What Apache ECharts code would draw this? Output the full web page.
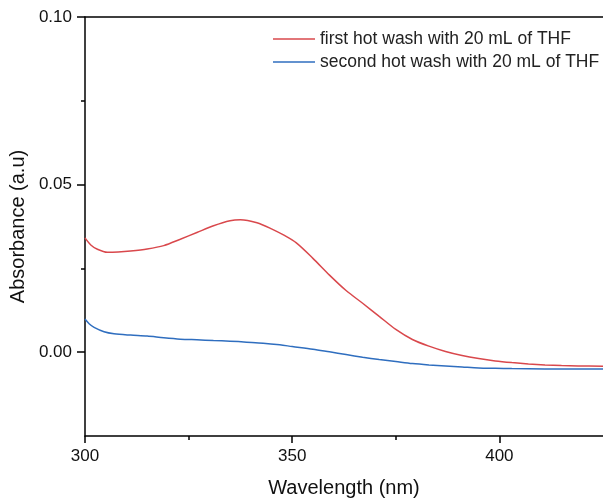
<!DOCTYPE html>
<html>
<head>
<meta charset="utf-8">
<script src="https://cdn.jsdelivr.net/npm/echarts@6/dist/echarts.min.js"></script>
<style>
  html, body { margin: 0; padding: 0; background: #fff; }
  #chart { width: 603px; height: 503px; }
</style>
</head>
<body>
<div id="chart"></div>
<script>
// first wash (red)
const firstWl = [300, 301.4, 303, 305.4, 308, 311, 315, 319, 323, 327, 331, 335, 337.5, 341.5, 345, 348, 351, 355, 359, 363, 367, 371, 375, 379, 383, 387, 391, 395, 399, 403, 407, 411, 415, 419, 425]
const firstAbs = [0.0341, 0.032, 0.0307, 0.0298, 0.0299, 0.0302, 0.0308, 0.0318, 0.0337, 0.0357, 0.0377, 0.0392, 0.0395, 0.0386, 0.0368, 0.0349, 0.0326, 0.028, 0.023, 0.0184, 0.0146, 0.0107, 0.0068, 0.0038, 0.0018, 0.0002, -0.001, -0.0019, -0.0026, -0.0031, -0.0035, -0.0038, -0.004, -0.0041, -0.0042]
// second wash (blue)
const secondWl = [300, 301, 302.2, 304.6, 307, 311, 315, 319, 323, 327, 331, 335, 339, 343, 347, 350, 355, 359, 363, 367, 371, 375, 379, 383, 387, 391, 395, 399, 403, 411, 419, 425]
const secondAbs = [0.0099, 0.0085, 0.0074, 0.0061, 0.0055, 0.0051, 0.0048, 0.0043, 0.0039, 0.0037, 0.0035, 0.0033, 0.003, 0.0027, 0.0022, 0.0017, 0.0009, 0.0001, -0.0007, -0.0015, -0.0022, -0.0028, -0.0034, -0.0038, -0.0041, -0.0044, -0.0047, -0.0048, -0.0049, -0.005, -0.005, -0.005]

const seriesNames = ['first hot wash with 20 mL of THF', 'second hot wash with 20 mL of THF']
const xMajor = [300, 350, 400]
const xMinor = [325, 375]
const yMajor = [0, 0.05, 0.1]
const yMinor = [0.025, 0.075]

const FONT = '"Liberation Sans", Arial, sans-serif'
const axisLine = { show: true, onZero: false, lineStyle: { color: '#000', width: 1.5 } }

const zip = (xs, ys) => xs.map((x, i) => [x, ys[i]])

const chart = echarts.init(document.getElementById('chart'))
chart.setOption({
  animation: false,
  textStyle: { fontFamily: FONT },
  grid: { left: 84, right: 0, top: 17, bottom: 67 },
  legend: {
    orient: 'vertical',
    left: 268,
    top: 25,
    icon: 'rect',
    itemWidth: 42,
    itemHeight: 1.5,
    itemGap: 5,
    textStyle: { fontSize: 17.5, color: '#222', fontFamily: FONT },
    data: seriesNames
  },
  xAxis: [
    {
      type: 'value', min: 300, max: 425, position: 'bottom',
      axisLine: axisLine,
      axisTick: { show: true, customValues: xMajor, length: 7, lineStyle: { color: '#000', width: 1.5 } },
      axisLabel: { customValues: xMajor, fontSize: 17, color: '#111', margin: 12, fontFamily: FONT },
      splitLine: { show: false },
      name: 'Wavelength (nm)', nameLocation: 'middle', nameGap: 42,
      nameTextStyle: { fontSize: 20, color: '#111', fontFamily: FONT }
    },
    {
      type: 'value', min: 300, max: 425, position: 'bottom',
      axisLine: { show: false, onZero: false },
      axisTick: { show: true, customValues: xMinor, length: 4, lineStyle: { color: '#000', width: 1.5 } },
      axisLabel: { show: false },
      splitLine: { show: false }
    },
    {
      type: 'value', min: 300, max: 425, position: 'top',
      axisLine: axisLine,
      axisTick: { show: false },
      axisLabel: { show: false },
      splitLine: { show: false }
    }
  ],
  yAxis: [
    {
      type: 'value', min: -0.025, max: 0.1, interval: 0.025, position: 'left',
      axisLine: axisLine,
      axisTick: { show: true, customValues: yMajor, length: 8, lineStyle: { color: '#000', width: 1.5 } },
      axisLabel: { customValues: yMajor, fontSize: 17, color: '#111', margin: 13, fontFamily: FONT,
        formatter: v => v.toFixed(2) },
      splitLine: { show: false },
      name: 'Absorbance (a.u)', nameLocation: 'middle', nameGap: 53,
      nameTextStyle: { fontSize: 20, color: '#111', fontFamily: FONT }
    },
    {
      type: 'value', min: -0.025, max: 0.1, interval: 0.025, position: 'left',
      axisLine: { show: false, onZero: false },
      axisTick: { show: true, customValues: yMinor, length: 4, lineStyle: { color: '#000', width: 1.5 } },
      axisLabel: { show: false },
      splitLine: { show: false }
    }
  ],
  series: [
    {
      name: seriesNames[0], type: 'line', data: zip(firstWl, firstAbs),
      smooth: 0.3, symbol: 'none', color: '#d9484c',
      lineStyle: { width: 1.5, color: '#d9484c' }
    },
    {
      name: seriesNames[1], type: 'line', data: zip(secondWl, secondAbs),
      smooth: 0.3, symbol: 'none', color: '#2f6ebf',
      lineStyle: { width: 1.5, color: '#2f6ebf' }
    }
  ]
})
</script>
</body>
</html>
